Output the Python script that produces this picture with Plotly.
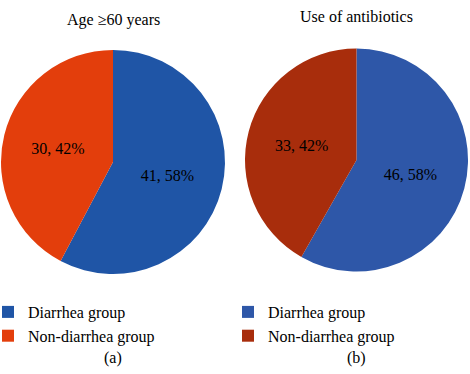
import plotly.graph_objects as go

groups = ["Diarrhea group", "Non-diarrhea group"]
age_values = [41, 30]
abx_values = [46, 33]
titles = ["Age \u226560 years", "Use of antibiotics"]
captions = ["(a)", "(b)"]
age_colors = ["#1F55A6", "#E33E0C"]
abx_colors = ["#2E57A8", "#A82D0C"]

W, H = 470, 374
def dom(cx, cy, r):
    return dict(x=[(cx - r) / W, (cx + r) / W], y=[1 - (cy + r) / H, 1 - (cy - r) / H])

FONT = "Liberation Serif"
TPL = "%{value}, %{percent:.0%}"

fig = go.Figure()
fig.add_trace(go.Pie(
    labels=groups, values=age_values, sort=False, direction="clockwise", rotation=0,
    marker=dict(colors=age_colors, line=dict(width=0)),
    texttemplate=TPL, textposition="inside",
    insidetextorientation="horizontal",
    textfont=dict(family=FONT, size=16, color="black"),
    domain=dom(113, 162, 112), legend="legend", legendgroup="a",
    hoverinfo="label+value+percent",
))
fig.add_trace(go.Pie(
    labels=groups, values=abx_values, sort=False, direction="clockwise", rotation=0,
    marker=dict(colors=abx_colors, line=dict(width=0)),
    texttemplate=TPL, textposition="inside",
    insidetextorientation="horizontal",
    textfont=dict(family=FONT, size=16, color="black"),
    domain=dom(356.5, 160, 111.5), legend="legend2", legendgroup="b",
    hoverinfo="label+value+percent",
))

ann = []
for x, y, t, s in [(113, 20, titles[0], 16), (356, 17, titles[1], 16),
                   (113, 358, captions[0], 16), (356, 358, captions[1], 16)]:
    ann.append(dict(x=x / W, y=1 - y / H, xref="paper", yref="paper", text=t,
                    showarrow=False, font=dict(family=FONT, size=s, color="black"),
                    xanchor="center", yanchor="middle"))

legfont = dict(family=FONT, size=16, color="black")
fig.update_layout(
    width=W, height=H, margin=dict(l=0, r=0, t=0, b=0, autoexpand=False),
    paper_bgcolor="white", plot_bgcolor="white",
    annotations=ann,
    legend=dict(x=-12 / W, y=1 - 295 / H,
                xanchor="left", yanchor="top", font=legfont,
                bgcolor="rgba(0,0,0,0)", tracegroupgap=0, itemwidth=30),
    legend2=dict(x=228 / W, y=1 - 295 / H,
                 xanchor="left", yanchor="top", font=legfont,
                 bgcolor="rgba(0,0,0,0)", tracegroupgap=0, itemwidth=30),
)

fig.write_html("out.html", config={"displayModeBar": False},
               post_script="document.body.style.margin='0px';")
